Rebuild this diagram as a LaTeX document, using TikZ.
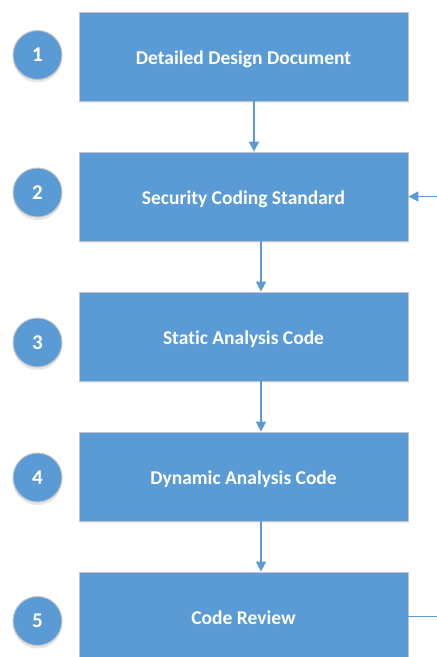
\documentclass[tikz,border=0pt]{standalone}
\usepackage{fontspec}
\setmainfont{Carlito}[Ligatures=NoCommon]
\usepackage{tikz}
\usetikzlibrary{shapes, arrows.meta, positioning, shadows}
\definecolor{stepblue}{HTML}{5B9BD5}
\definecolor{edgegray}{HTML}{C4C4C4}

\begin{document}
\begin{tikzpicture}
  [
    x=1pt, y=-1pt,
    Box/.style={rectangle, draw=edgegray, fill=stepblue, line width=0.8pt, minimum width=329pt, minimum height=89pt, text height=16pt, text depth=1pt, text=white, font=\bfseries\fontsize{19.5}{22}\selectfont, drop shadow={opacity=0.15, shadow xshift=1pt, shadow yshift=-2pt}},
    Num/.style={circle, draw=edgegray, fill=stepblue, line width=1pt, minimum size=49pt, text=white, font=\bfseries\fontsize{21}{22}\selectfont, drop shadow={opacity=0.2, shadow xshift=0pt, shadow yshift=-3pt}},
    Flow/.style={draw=stepblue, line width=1.6pt, -{Triangle[length=10pt, width=10pt]}}
  ]
  \useasboundingbox (0,0) rectangle (437,657);
  % Nodes
  \node[Box] (b1) at(243.5, 56.5) {Detailed Design Document};
  \node[Box] (b2) at(243.5, 196.5) {Security Coding Standard};
  \node[Box] (b3) at(243.5, 336.5) {Static Analysis Code};
  \node[Box] (b4) at(243.5, 476.5) {Dynamic Analysis Code};
  \node[Box] (b5) at(243.5, 616.5) {Code Review};

  \node[Num] (n1) at(37.5, 55) {1};
  \node[Num] (n2) at(37.5, 192.5) {2};
  \node[Num] (n3) at(37.5, 342.5) {3};
  \node[Num] (n4) at(37.5, 477.5) {4};
  \node[Num] (n5) at(37.5, 621) {5};

  \coordinate (loopin) at(437, 196.5);
  \coordinate (loopout) at(437, 616.5);

  % Lines
  \path [Flow] ([xshift=10.5pt]b1.south) -- ([xshift=10.5pt]b1.south |- b2.north);
  \path [Flow] ([xshift=17.5pt]b2.south) -- ([xshift=17.5pt]b2.south |- b3.north);
  \path [Flow] ([xshift=17.5pt]b3.south) -- ([xshift=17.5pt]b3.south |- b4.north);
  \path [Flow] ([xshift=17.5pt]b4.south) -- ([xshift=17.5pt]b4.south |- b5.north);
  \path [Flow] (loopin) -- (b2.east);
  \path [draw=stepblue, line width=1.6pt] (b5.east) -- (loopout);

\end{tikzpicture}
\end{document}
